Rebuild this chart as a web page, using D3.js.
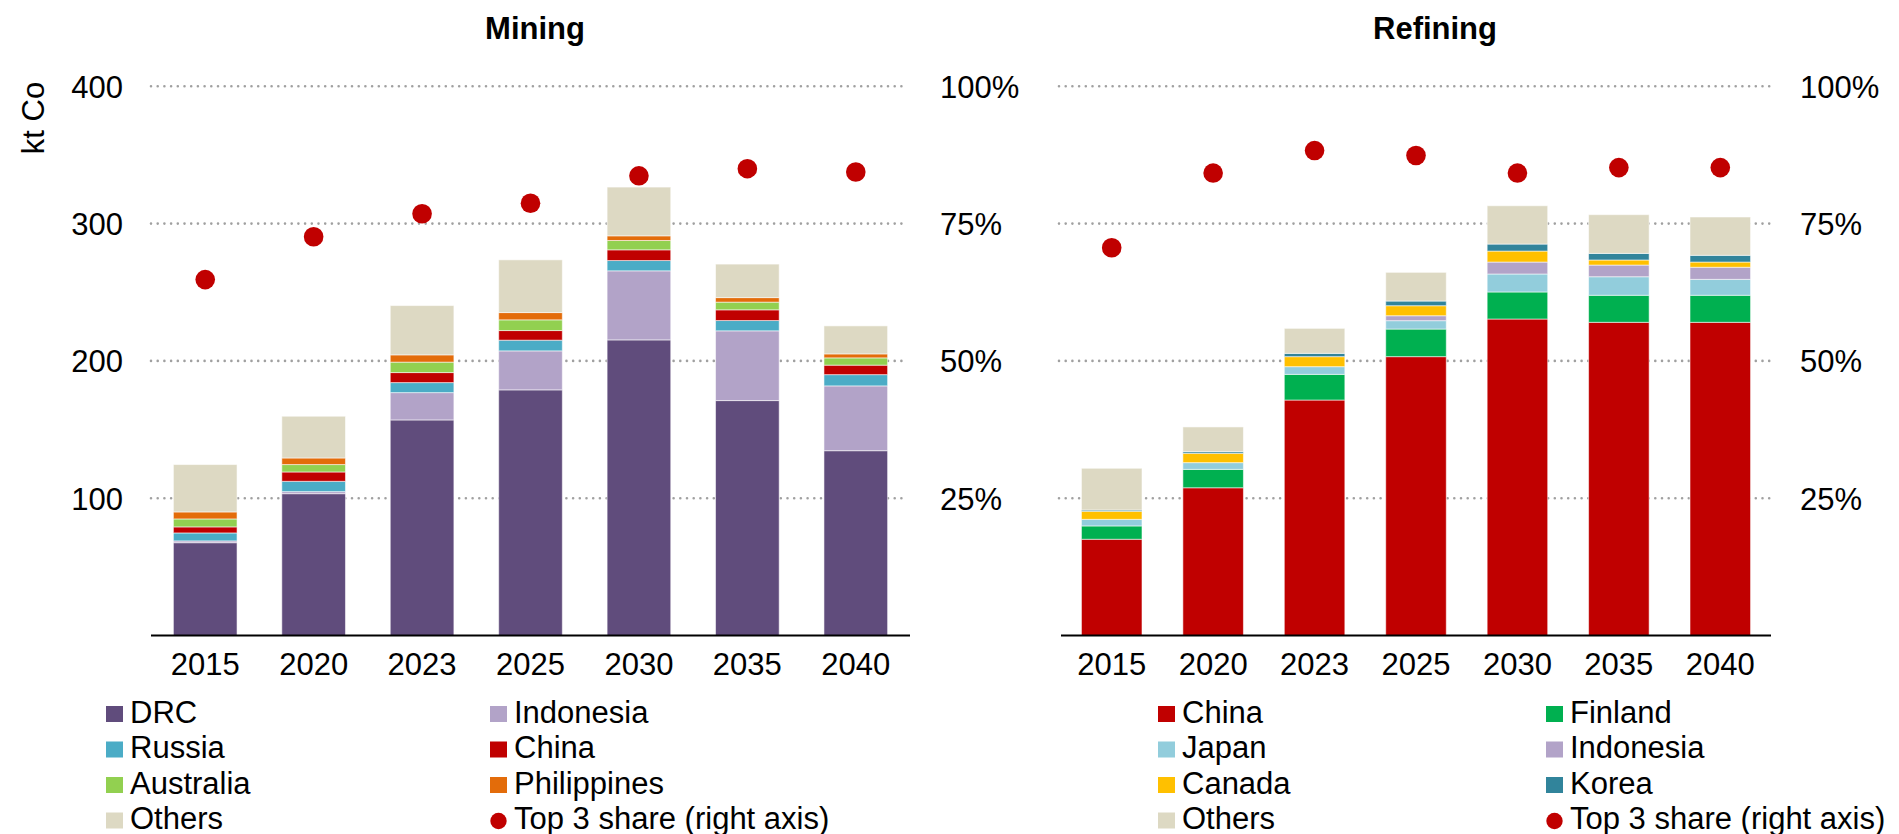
<!DOCTYPE html>
<html>
<head>
<meta charset="utf-8">
<script src="https://cdn.jsdelivr.net/npm/d3@7"></script>
<style>
  html, body { margin: 0; padding: 0; background: #fff; }
  svg { display: block; font-family: "Liberation Sans", Arial, sans-serif; }
</style>
</head>
<body>
<svg id="chart" width="1899" height="834"></svg>
<script>
// ---------- DATA ----------
const years = ["2015", "2020", "2023", "2025", "2030", "2035", "2040"];

// Mining (kt Co)
const miningDRC         = [67.6, 103.3, 157.0, 178.9, 215.3, 171.1, 134.6];
const miningIndonesia   = [1.3, 1.5, 19.9, 28.4, 50.3, 50.8, 47.2];
const miningRussia      = [5.8, 7.5, 7.3, 7.8, 7.5, 7.5, 8.2];
const miningChina       = [4.4, 6.8, 7.3, 7.0, 7.8, 7.8, 6.9];
const miningAustralia   = [5.8, 5.4, 7.6, 7.8, 6.8, 5.6, 5.3];
const miningPhilippines = [5.1, 4.8, 5.3, 5.3, 3.4, 3.3, 2.9];
const miningOthers      = [34.5, 30.4, 35.9, 38.4, 35.5, 24.4, 20.4];
const miningTop3Share   = [64.8, 72.6, 76.8, 78.7, 83.7, 85.0, 84.4];

// Refining (kt Co)
const refiningChina     = [70.1, 107.6, 171.5, 203.1, 230.5, 228.1, 228.1];
const refiningFinland   = [9.7, 13.4, 18.7, 20.1, 19.7, 19.7, 19.7];
const refiningJapan     = [4.8, 4.9, 5.6, 6.1, 13.1, 13.5, 11.6];
const refiningIndonesia = [0, 0, 0, 3.6, 8.7, 8.5, 8.8];
const refiningCanada    = [5.9, 6.8, 7.3, 7.3, 8.0, 3.7, 3.8];
const refiningKorea     = [0.9, 1.2, 2.4, 3.4, 5.1, 4.8, 4.9];
const refiningOthers    = [30.4, 18.0, 18.2, 20.9, 27.9, 28.2, 27.9];
const refiningTop3Share = [70.6, 84.2, 88.3, 87.4, 84.2, 85.2, 85.2];

const leftTicks  = [100, 200, 300, 400];
const rightTicks = [25, 50, 75, 100];

const miningSeries = [
  { name: "DRC",         values: miningDRC,         color: "#604c7c" },
  { name: "Indonesia",   values: miningIndonesia,   color: "#b2a3c8" },
  { name: "Russia",      values: miningRussia,      color: "#4bacc6" },
  { name: "China",       values: miningChina,       color: "#c00000" },
  { name: "Australia",   values: miningAustralia,   color: "#92d050" },
  { name: "Philippines", values: miningPhilippines, color: "#e36c0a" },
  { name: "Others",      values: miningOthers,      color: "#ddd9c3" }
];
const refiningSeries = [
  { name: "China",     values: refiningChina,     color: "#c00000" },
  { name: "Finland",   values: refiningFinland,   color: "#00b050" },
  { name: "Japan",     values: refiningJapan,     color: "#92cddc" },
  { name: "Indonesia", values: refiningIndonesia, color: "#b2a3c8" },
  { name: "Canada",    values: refiningCanada,    color: "#ffc000" },
  { name: "Korea",     values: refiningKorea,     color: "#31849b" },
  { name: "Others",    values: refiningOthers,    color: "#ddd9c3" }
];

// ---------- LAYOUT ----------
const svg = d3.select("#chart");
const FS = 31;
const yTop = 86.3, yBase = 635.5;

function drawPanel(cfg) {
  const g = svg.append("g");
  const x = d3.scaleBand().domain(years).range([cfg.x0, cfg.x1])
    .paddingInner(cfg.pad).paddingOuter(cfg.pad / 2);
  const y = d3.scaleLinear().domain([0, 400]).range([yBase, yTop]);
  const yShare = d3.scaleLinear().domain([0, 100]).range([yBase, yTop]);

  // gridlines
  g.append("g").selectAll("line").data(leftTicks).join("line")
    .attr("x1", cfg.gx0).attr("x2", cfg.gx1)
    .attr("y1", d => y(d)).attr("y2", d => y(d))
    .attr("stroke", "#a0a0a0").attr("stroke-width", 2.6)
    .attr("stroke-linecap", "round").attr("stroke-dasharray", "0,6.7");

  // stacked bars
  const table = years.map((yr, i) => {
    const row = { year: yr };
    cfg.series.forEach(s => row[s.name] = s.values[i]);
    return row;
  });
  const stack = d3.stack().keys(cfg.series.map(s => s.name));
  const layers = stack(table);
  g.append("g").selectAll("g").data(layers).join("g")
    .attr("fill", (d, i) => cfg.series[i].color)
    .selectAll("rect").data(d => d).join("rect")
    .attr("x", d => x(d.data.year))
    .attr("width", x.bandwidth())
    .attr("y", d => y(d[1]))
    .attr("height", d => Math.max(0, y(d[0]) - y(d[1])))
    .attr("stroke", "#ffffff").attr("stroke-opacity", 0.55).attr("stroke-width", 1);

  // baseline
  g.append("line").attr("x1", cfg.x0).attr("x2", cfg.x1)
    .attr("y1", yBase).attr("y2", yBase)
    .attr("stroke", "#000").attr("stroke-width", 1.8);

  // top 3 share dots
  g.append("g").selectAll("circle").data(cfg.share).join("circle")
    .attr("cx", (d, i) => x(years[i]) + x.bandwidth() / 2)
    .attr("cy", d => yShare(d))
    .attr("r", 9.8).attr("fill", "#c00000");

  // x axis
  const xa = g.append("g").attr("transform", `translate(0,${yBase})`)
    .call(d3.axisBottom(x).tickSize(0).tickPadding(17.5));
  xa.select(".domain").remove();
  xa.selectAll("text").attr("font-size", FS).attr("fill", "#000")
    .style("font-family", '"Liberation Sans", Arial, sans-serif');

  // left axis
  if (cfg.leftAxis) {
    const la = g.append("g").attr("transform", `translate(${cfg.leftX},0)`)
      .call(d3.axisLeft(y).tickValues(leftTicks).tickSize(0).tickPadding(0));
    la.select(".domain").remove();
    la.selectAll("text").attr("font-size", FS).attr("fill", "#000").attr("dy", "0.35em")
      .style("font-family", '"Liberation Sans", Arial, sans-serif');
    g.append("text")
      .attr("transform", `translate(43.5,118) rotate(-90)`)
      .attr("text-anchor", "middle").attr("font-size", FS).attr("fill", "#000")
      .text("kt Co");
  }

  // right axis
  const ra = g.append("g").attr("transform", `translate(${cfg.rightX},0)`)
    .call(d3.axisRight(yShare).tickValues(rightTicks).tickSize(0).tickPadding(0)
      .tickFormat(d => d + "%"));
  ra.select(".domain").remove();
  ra.selectAll("text").attr("font-size", FS).attr("fill", "#000").attr("dy", "0.35em")
    .style("font-family", '"Liberation Sans", Arial, sans-serif');

  // title
  g.append("text").attr("x", cfg.titleX).attr("y", 39)
    .attr("text-anchor", "middle").attr("font-size", FS).attr("font-weight", "bold")
    .attr("fill", "#000").text(cfg.title);

  // legend
  const items = cfg.series.map(s => ({ name: s.name, color: s.color, type: "rect" }));
  items.push({ name: "Top 3 share (right axis)", color: "#c00000", type: "dot" });
  const rowsY = [706, 741.5, 777, 812.5];
  const lg = g.append("g");
  items.forEach((it, i) => {
    const col = i % 2, row = Math.floor(i / 2);
    const sx = cfg.legendX[col];
    const ty = rowsY[row];
    if (it.type === "rect") {
      lg.append("rect").attr("x", sx).attr("y", ty).attr("width", 17).attr("height", 16)
        .attr("fill", it.color);
    } else {
      lg.append("circle").attr("cx", sx + 8.5).attr("cy", ty + 8.5).attr("r", 8.2)
        .attr("fill", it.color);
    }
    lg.append("text").attr("x", sx + 24).attr("y", ty + 16.5)
      .attr("font-size", FS).attr("fill", "#000").text(it.name);
  });
}

drawPanel({
  title: "Mining", titleX: 535,
  series: miningSeries, share: miningTop3Share,
  x0: 151, x1: 910, gx0: 151, gx1: 907, pad: 0.413,
  leftAxis: true, leftX: 123, rightX: 940,
  legendX: [106, 490]
});
drawPanel({
  title: "Refining", titleX: 1435,
  series: refiningSeries, share: refiningTop3Share,
  x0: 1061, x1: 1771, gx0: 1059, gx1: 1770, pad: 0.403,
  leftAxis: false, rightX: 1800,
  legendX: [1158, 1546]
});
</script>
</body>
</html>
